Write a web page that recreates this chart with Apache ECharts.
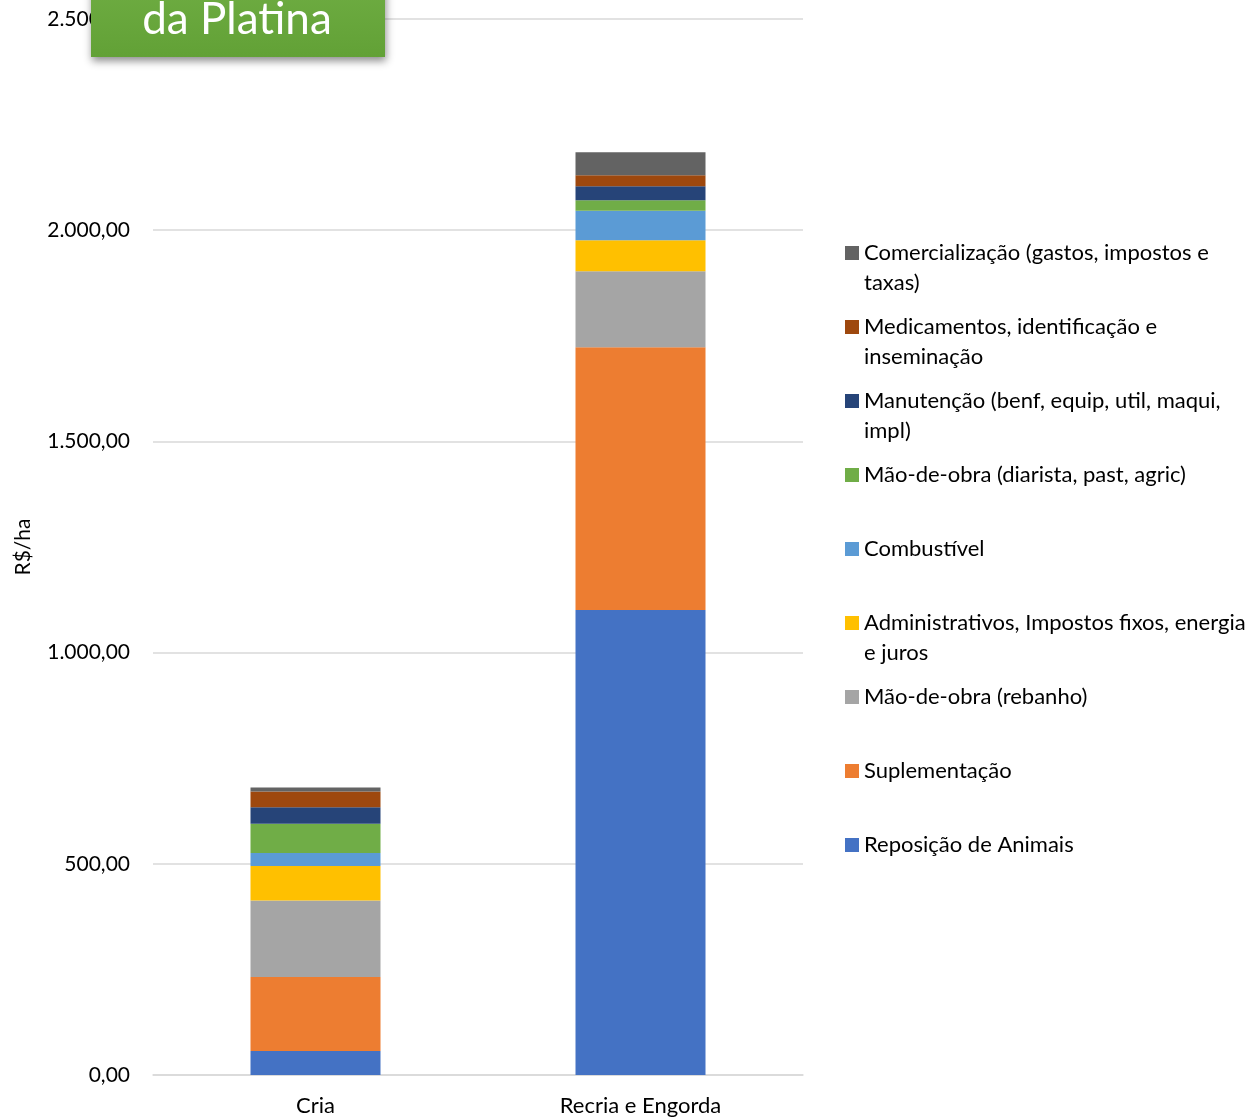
<!DOCTYPE html>
<html>
<head>
<meta charset="utf-8">
<script src="https://cdn.jsdelivr.net/npm/echarts@6/dist/echarts.min.js"></script>
<style>
html,body{margin:0;padding:0;background:#fff;}
#chart{width:1258px;height:1119px;}
</style>
</head>
<body>
<div id="chart"></div>
<script>
// ---- data ----
var categories = ['Cria', 'Recria e Engorda'];
var seriesNames = [
  'Reposição de Animais',
  'Suplementação',
  'Mão-de-obra (rebanho)',
  'Administrativos, Impostos fixos, energia e juros',
  'Combustível',
  'Mão-de-obra (diarista, past, agric)',
  'Manutenção (benf, equip, util, maqui, impl)',
  'Medicamentos, identificação e inseminação',
  'Comercialização (gastos, impostos e taxas)'
];
var legendLines = [
  ['Reposição de Animais'],
  ['Suplementação'],
  ['Mão-de-obra (rebanho)'],
  ['Administrativos, Impostos fixos, energia', 'e juros'],
  ['Combustível'],
  ['Mão-de-obra (diarista, past, agric)'],
  ['Manutenção (benf, equip, util, maqui,', 'impl)'],
  ['Medicamentos, identificação e', 'inseminação'],
  ['Comercialização (gastos, impostos e', 'taxas)']
];
var reposicao      = [56.8, 1100.8];
var suplementacao  = [175.0, 622.0];
var maoObraRebanho = [181.6, 180.0];
var administrativos= [81.2, 73.4];
var combustivel    = [30.8, 70.1];
var maoObraDiarista= [69.4, 24.6];
var manutencao     = [38.8, 33.1];
var medicamentos   = [37.8, 26.0];
var comercializacao= [9.4, 54.5];
var yTicks = { min: 0, max: 2500, interval: 500 };
var titleText = 'da Platina';
var yAxisName = 'R$/ha';

var seriesValues = [reposicao, suplementacao, maoObraRebanho, administrativos,
  combustivel, maoObraDiarista, manutencao, medicamentos, comercializacao];
var colors = ['#4472C4', '#ED7D31', '#A5A5A5', '#FFC000', '#5B9BD5',
  '#70AD47', '#264478', '#9E480E', '#636363'];

var FONT = 'Lato';

var series = seriesNames.map(function (n, i) {
  return {
    name: n,
    type: 'bar',
    stack: 'total',
    barWidth: '40%',
    data: seriesValues[i],
    itemStyle: { color: colors[i] },
    emphasis: { disabled: true }
  };
});

// legend: top entry is Comercialização, bottom is Reposição
var legendCenters = [845, 771, 697, 623, 549, 475, 401, 327, 253]; // index aligned with series
var legends = seriesNames.map(function (n, i) {
  var lines = legendLines[i];
  var twoLine = lines.length > 1;
  var label = twoLine ? ('\n' + lines[0] + '\n' + lines[1]) : lines[0];
  return {
    show: true,
    data: [n],
    left: 845,
    top: legendCenters[i] - (twoLine ? 45 : 15),
    padding: 0,
    itemWidth: 14,
    itemHeight: 14,
    icon: 'rect',
    selectedMode: false,
    formatter: function () { return label; },
    textStyle: {
      fontFamily: FONT,
      fontSize: 22,
      color: '#000',
      lineHeight: 30
    }
  };
});

function fmt(v) {
  var s = Math.round(v).toString();
  s = s.replace(/\B(?=(\d{3})+(?!\d))/g, '.');
  return s + ',00';
}

var chart = echarts.init(document.getElementById('chart'));
chart.setOption({
  animation: false,
  backgroundColor: '#fff',
  legend: legends,
  grid: { left: 153, right: 455, top: 19, bottom: 44, containLabel: false },
  xAxis: {
    type: 'category',
    data: categories,
    axisTick: { show: false },
    axisLine: { lineStyle: { color: '#d9d9d9', width: 1.5 } },
    axisLabel: { fontFamily: FONT, fontSize: 22, color: '#000', margin: 20 }
  },
  yAxis: {
    type: 'value',
    min: yTicks.min,
    max: yTicks.max,
    interval: yTicks.interval,
    name: yAxisName,
    nameLocation: 'middle',
    nameGap: 119,
    nameTextStyle: { fontFamily: FONT, fontSize: 21, color: '#000' },
    axisLine: { show: false },
    axisTick: { show: false },
    splitLine: { lineStyle: { color: '#d9d9d9', width: 1.5 } },
    axisLabel: { fontFamily: FONT, fontSize: 21, color: '#000', margin: 23, formatter: fmt }
  },
  series: series,
  graphic: [
    {
      type: 'rect',
      z: 100,
      shape: { x: 91, y: -40, width: 294, height: 97 },
      style: {
        fill: new echarts.graphic.LinearGradient(0, 0, 0, 1, [
          { offset: 0, color: '#72B046' },
          { offset: 1, color: '#62A136' }
        ]),
        shadowBlur: 8,
        shadowOffsetY: 4,
        shadowOffsetX: 1,
        shadowColor: 'rgba(0,0,0,0.45)'
      }
    },
    {
      type: 'text',
      z: 101,
      x: 237,
      y: 20,
      style: {
        text: titleText,
        fill: '#fff',
        fontFamily: FONT,
        fontSize: 44,
        align: 'center',
        verticalAlign: 'middle'
      }
    }
  ]
});
</script>
</body>
</html>
